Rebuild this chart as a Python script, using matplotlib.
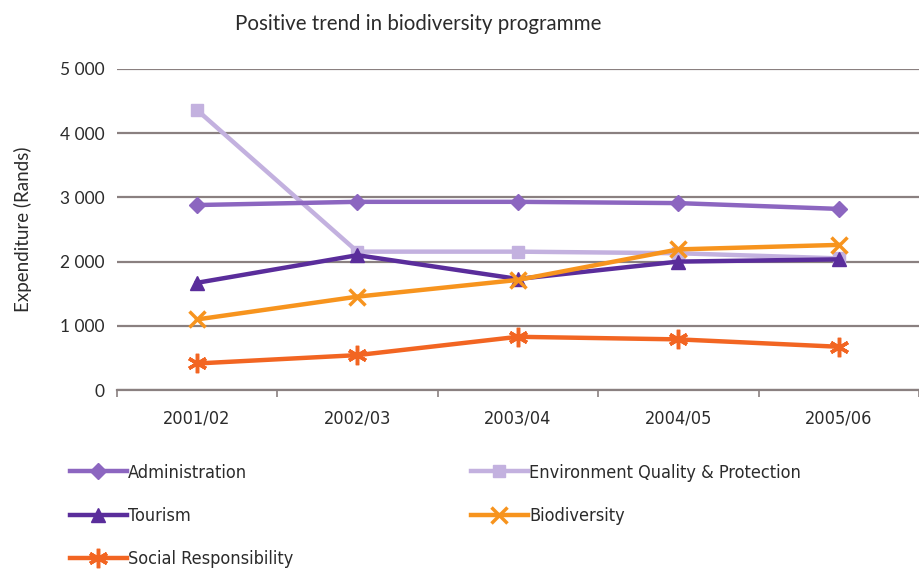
import matplotlib
matplotlib.use("Agg")
import matplotlib.pyplot as plt
import numpy as np

years = ["2001/02", "2002/03", "2003/04", "2004/05", "2005/06"]
administration = [2880, 2930, 2930, 2910, 2820]
env_quality = [4360, 2155, 2155, 2130, 2050]
tourism = [1670, 2100, 1730, 2000, 2035]
biodiversity = [1100, 1455, 1715, 2190, 2260]
social_resp = [415, 545, 830, 790, 675]

series_names = ["Administration", "Environment Quality & Protection", "Tourism",
                "Biodiversity", "Social Responsibility"]
yticks = [0, 1000, 2000, 3000, 4000, 5000]
ytick_labels = ["0", "1 000", "2 000", "3 000", "4 000", "5 000"]

narrow = ["DejaVu Sans"]
humanist = ["Lato", "DejaVu Sans"]
text_col = "#2b2b2b"
grid_col = "#8a8080"

fig = plt.figure(figsize=(9.19, 5.78), dpi=100)
ax = fig.add_axes([0.127, 0.325, 0.873, 0.556])

x = np.arange(len(years))
styles = [
    (administration, "#8c66c0", "D", 8, series_names[0], 2),
    (env_quality, "#c3b1df", "s", 8, series_names[1], 1),
    (tourism, "#5a2d9b", "^", 10, series_names[2], 3),
    (biodiversity, "#f7941e", "x", 12, series_names[3], 4),
    (social_resp, "#f26522", (6, 2, 0), 14, series_names[4], 5),
]
handles = {}
for vals, col, mk, ms, name, z in styles:
    mew = 2.5 if mk in ("x",) or isinstance(mk, tuple) else 1
    (h,) = ax.plot(x, vals, color=col, lw=3.2, marker=mk, markersize=ms,
                   markeredgewidth=mew, markeredgecolor=col, markerfacecolor=col,
                   label=name, zorder=z, solid_joinstyle="round")
    handles[name] = h

ax.set_xlim(-0.5, len(years) - 0.5)
ax.set_ylim(0, 5000)
ax.set_yticks(yticks)
ax.set_yticklabels(ytick_labels, fontfamily=humanist, fontsize=12.5, color=text_col)
ax.yaxis.grid(True, color=grid_col, lw=1.6)
ax.set_axisbelow(True)
ax.tick_params(axis="y", length=0, pad=9)

ax.set_xticks(x)
ax.set_xticklabels(years, fontfamily=narrow, fontstretch="condensed",
                   fontsize=13, color=text_col)
ax.set_xticks(np.arange(-0.5, len(years) + 0.5, 1), minor=True)
ax.tick_params(axis="x", which="major", length=0, pad=14)
ax.tick_params(axis="x", which="minor", length=5, width=1.2, color=grid_col, direction="out")

for s in ["left", "right", "top"]:
    ax.spines[s].set_visible(False)
ax.spines["bottom"].set_color(grid_col)
ax.spines["bottom"].set_linewidth(1.6)

ax.set_ylabel("Expenditure (Rands)", fontfamily=humanist, fontsize=13.5,
              color=text_col, labelpad=20)

fig.text(0.455, 0.958, "Positive trend in biodiversity programme",
         ha="center", va="center", fontfamily=humanist, fontsize=14.8, color=text_col)

order = ["Administration", "Tourism", "Social Responsibility",
         "Environment Quality & Protection", "Biodiversity"]
leg = fig.legend([handles[n] for n in order], order, ncol=2,
                 loc="upper left", bbox_to_anchor=(0.058, 0.226),
                 frameon=False, handlelength=3.2, handletextpad=0.05,
                 columnspacing=9.8, labelspacing=1.4,
                 prop={"family": narrow, "stretch": "condensed", "size": 13})
for t in leg.get_texts():
    t.set_color(text_col)

fig.savefig("out.png", dpi=100, facecolor="white")
